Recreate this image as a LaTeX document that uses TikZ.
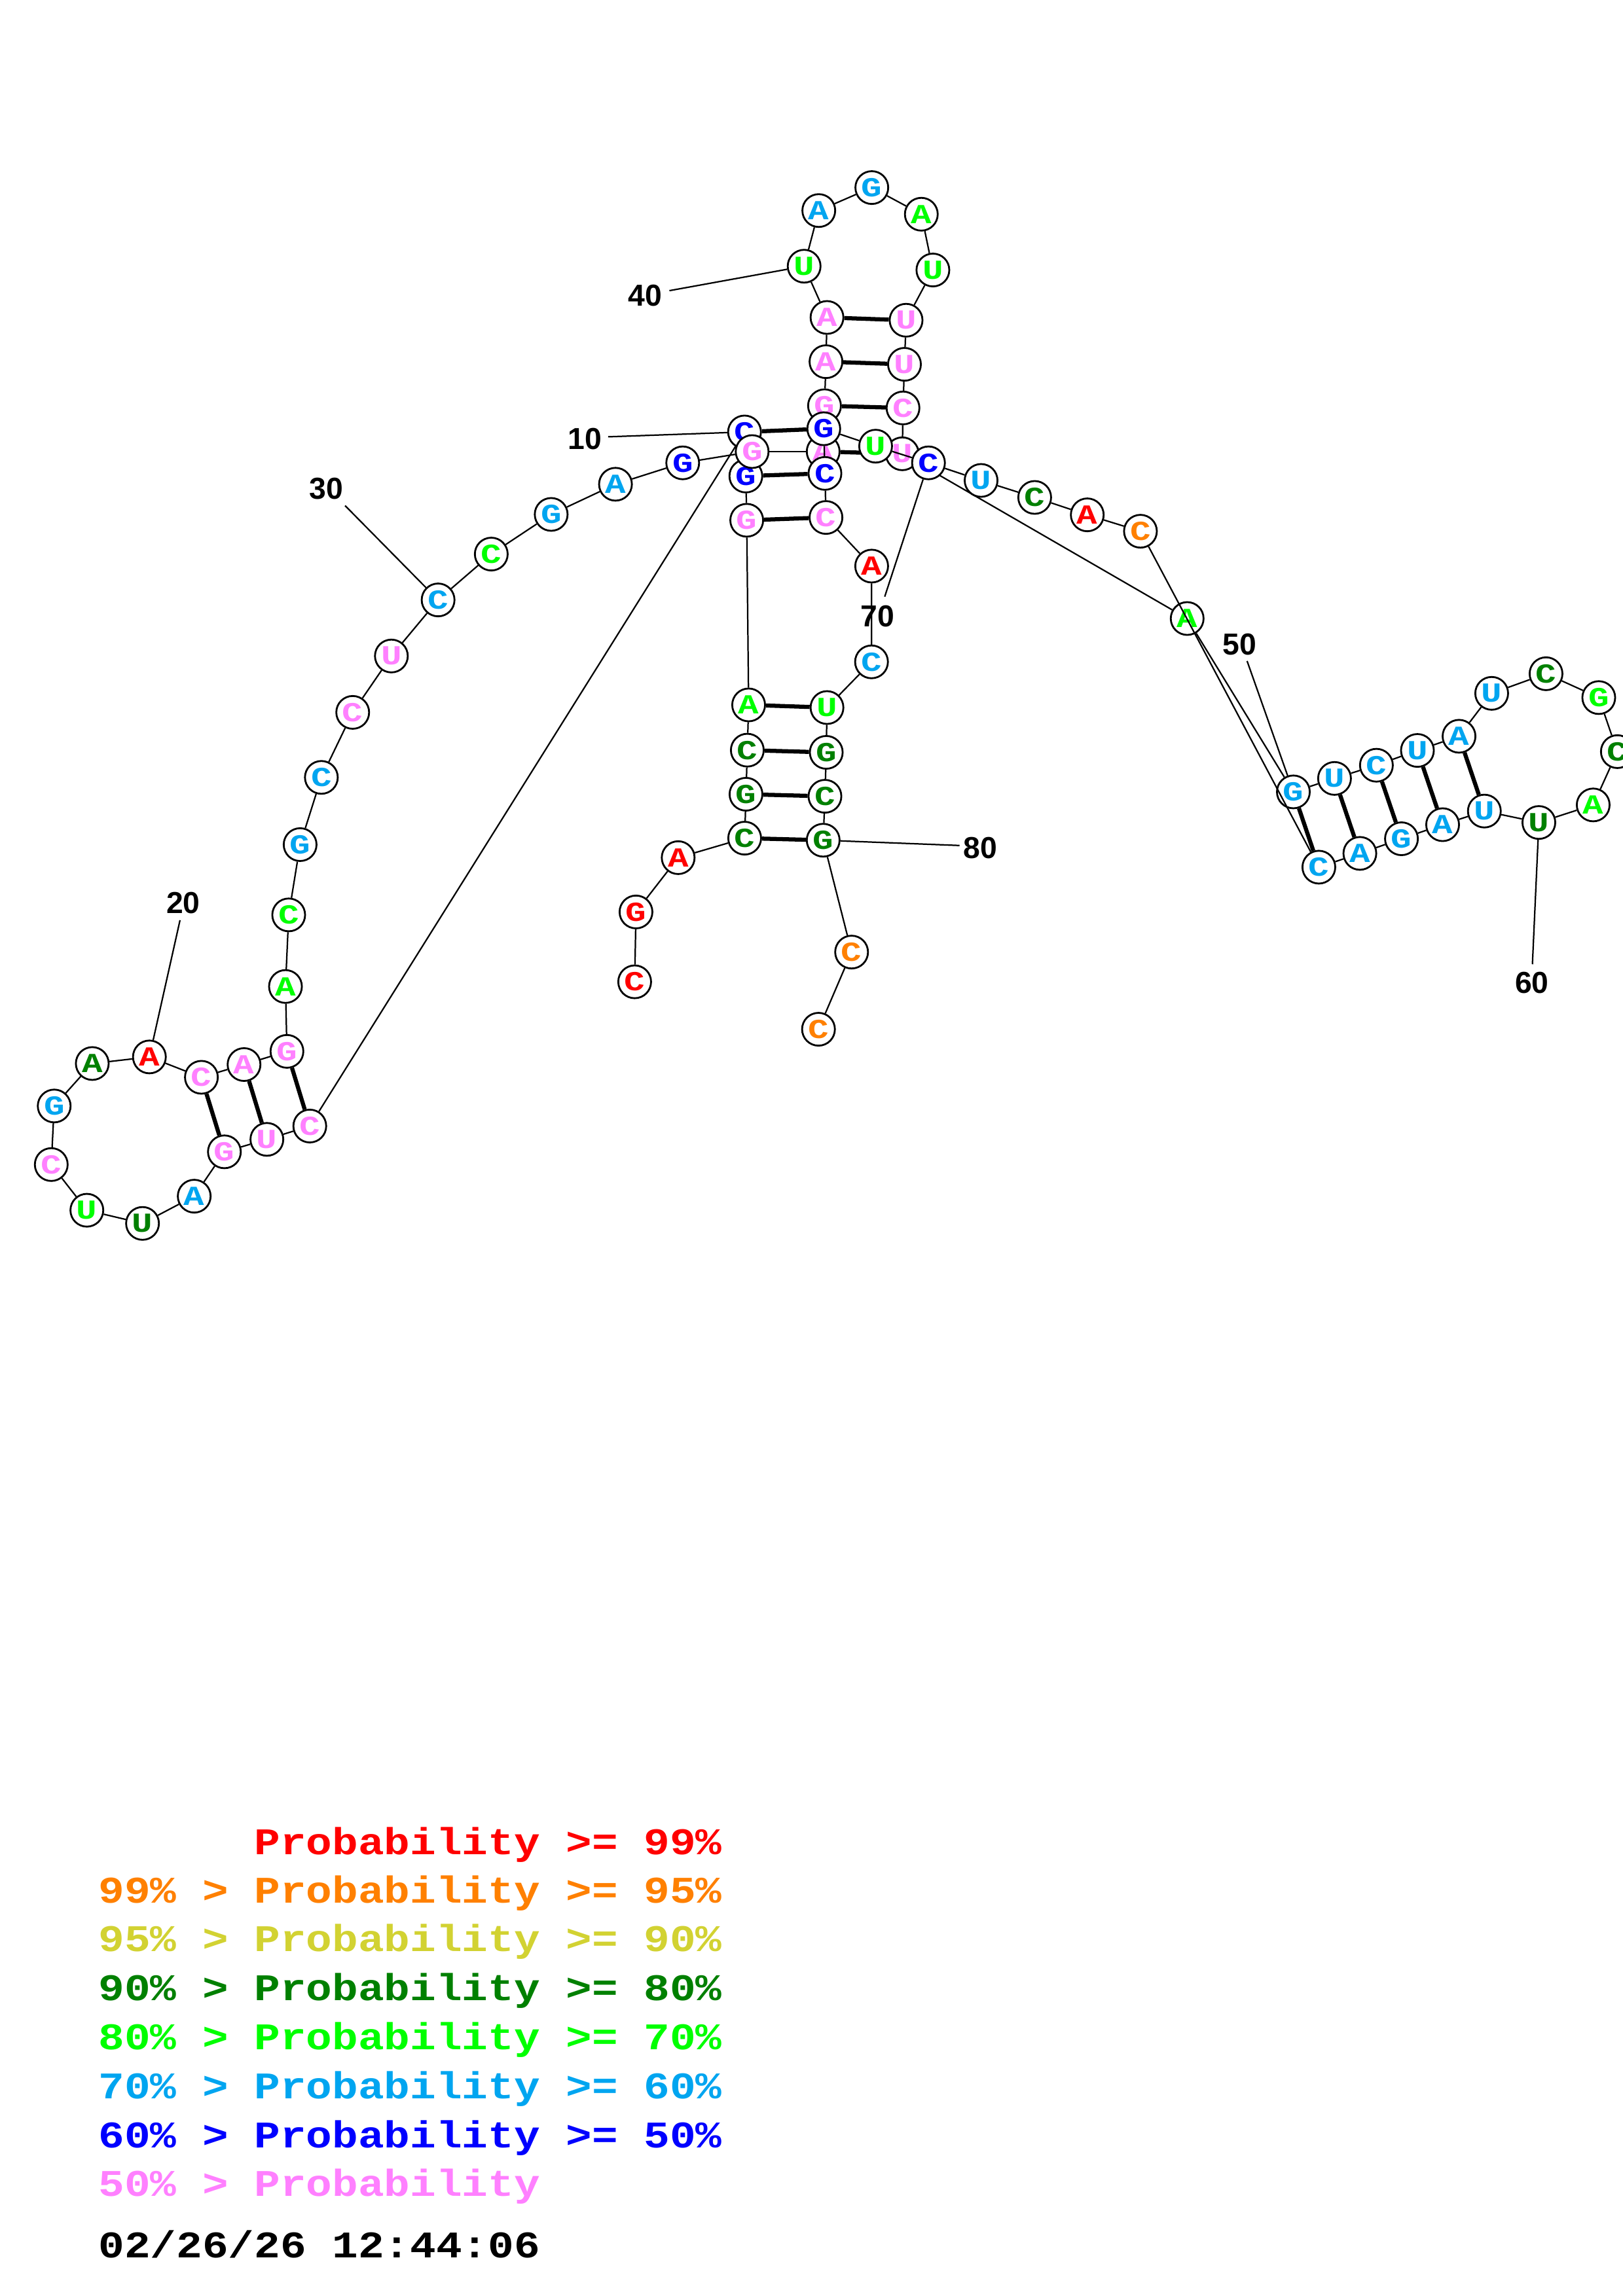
\documentclass[tikz,border=0pt]{standalone}
\usepackage{fontspec}
\newfontfamily\ntfont{Liberation Mono}[FakeStretch=1.15]
\newfontfamily\basefont{Liberation Mono}[FakeStretch=1.25]
\newfontfamily\numfont{Liberation Sans}
\definecolor{cR}{RGB}{255,0,0}
\definecolor{cO}{RGB}{255,128,0}
\definecolor{cY}{RGB}{210,210,50}
\definecolor{cD}{RGB}{0,128,0}
\definecolor{cG}{RGB}{0,255,0}
\definecolor{cC}{RGB}{0,165,240}
\definecolor{cB}{RGB}{0,0,255}
\definecolor{cP}{RGB}{255,128,255}
\begin{document}
\begin{tikzpicture}[x=1pt,y=-1pt,
  nt/.style={circle, draw=black, fill=white, line width=1.25pt, minimum size=22.4pt, inner sep=0pt,
    font=\basefont\bfseries\fontsize{18.8}{18.8}\selectfont},
  bb/.style={line width=1pt},
  bp/.style={line width=2.8pt},
  lab/.style={inner sep=0pt, font=\numfont\bfseries\fontsize{20.7}{20.7}\selectfont},
  leg/.style={anchor=base west, inner sep=0pt, font=\ntfont\bfseries\fontsize{25.7}{30}\selectfont}]
\fill[white] (0,0) rectangle (1108,1568);
\useasboundingbox (0,0) rectangle (1108,1568);
\foreach \i/\px/\py/\nb/\col/\pp in {
1/433.3/670.5/C/cR/0,
2/434.2/622.8/G/cR/0,
3/463.0/585.7/A/cR/0,
4/508.4/572.4/C/cD/0,
5/509.3/542.4/G/cD/0,
6/510.2/512.3/C/cD/0,
7/511.1/481.4/A/cG/0,
8/509.8/355.3/G/cP/0,
9/509.2/325.1/G/cB/0,
10/508.3/295.0/C/cB/0,
11/211.5/769.0/C/cP/0,
12/182.2/778.1/U/cP/0,
13/153.2/786.6/G/cP/0,
14/132.6/816.9/A/cC/0,
15/97.3/835.5/U/cD/0,
16/59.3/826.5/U/cG/0,
17/35.0/795.3/C/cP/0,
18/37.0/755.3/G/cC/0,
19/63.0/726.3/A/cD/0,
20/102.0/721.8/A/cR/0,
21/137.5/735.7/C/cP/13,
22/166.6/727.0/A/cP/12,
23/195.9/718.0/G/cP/11,
24/194.9/673.7/A/cG/0,
25/197.1/624.8/C/cG/0,
26/204.9/576.8/G/cC/0,
27/219.4/530.9/C/cC/0,
28/240.8/486.5/C/cP/0,
29/267.2/448.0/U/cP/0,
30/299.1/409.7/C/cC/0,
31/335.4/378.4/C/cG/0,
32/376.3/351.3/G/cC/0,
33/420.2/330.7/A/cC/0,
34/466.1/316.1/G/cB/0,
35/513.5/308.4/G/cP/0,
36/562.0/308.4/A/cP/0,
37/562.9/277.1/G/cP/0,
38/563.9/247.0/A/cP/0,
39/564.6/216.8/A/cP/0,
40/549.0/181.8/U/cG/0,
41/559.0/143.8/A/cC/0,
42/595.2/128.1/G/cC/0,
43/629.0/146.3/A/cG/0,
44/636.9/184.4/U/cG/0,
45/618.6/218.7/U/cP/39,
46/617.5/248.8/U/cP/38,
47/616.5/278.6/C/cP/37,
48/616.0/309.9/U/cP/36,
49/810.5/422.4/A/cG/0,
50/883.0/540.8/G/cC/0,
51/911.1/531.6/U/cC/0,
52/939.7/522.6/C/cC/0,
53/967.7/512.5/U/cC/0,
54/996.1/502.8/A/cC/0,
55/1018.4/473.5/U/cC/0,
56/1055.5/460.1/C/cD/0,
57/1091.5/476.4/G/cG/0,
58/1104.2/513.3/C/cD/0,
59/1087.7/549.7/A/cG/0,
60/1050.6/561.7/U/cD/0,
61/1013.4/553.9/U/cC/54,
62/984.9/563.2/A/cC/53,
63/956.8/572.8/G/cC/52,
64/928.4/582.8/A/cC/51,
65/900.4/592.2/C/cC/50,
66/778.6/362.8/C/cO/0,
67/742.3/351.6/A/cR/0,
68/706.4/339.7/C/cD/0,
69/669.8/328.1/U/cC/0,
70/633.9/316.1/C/cB/0,
71/597.8/304.7/U/cG/0,
72/562.4/292.8/G/cB/10,
73/563.2/323.3/C/cB/9,
74/563.9/353.4/C/cP/8,
75/595.1/386.6/A/cR/0,
76/595.0/452.0/C/cC/0,
77/564.6/483.2/U/cG/7,
78/564.1/513.8/G/cD/6,
79/563.2/543.8/C/cD/5,
80/562.0/573.8/G/cD/4,
81/581.4/650.2/C/cO/0,
82/558.8/702.9/C/cO/0}{
  \node[nt,text=\col] (n\i) at (\px,\py) {\nb};
  \ifnum\i>1
    \pgfmathtruncatemacro\jj{\i-1}
    \draw[bb] (n\jj) -- (n\i);
  \fi
  \ifnum\pp>0
    \draw[bp] (n\pp) -- (n\i);
  \fi
}
% numbering labels
\node[lab] (L10) at (399.3,299.5) {10};
\node[lab] (L20) at (125.1,616.8) {20};
\node[lab] (L30) at (222.7,333.7) {30};
\node[lab] (L40) at (440.5,202.0) {40};
\node[lab] (L50) at (846.4,440.2) {50};
\node[lab] (L60) at (1045.9,671.2) {60};
\node[lab] (L70) at (599.0,420.9) {70};
\node[lab] (L80) at (669.3,579.1) {80};
\coordinate (e10) at (415.2,298.3);
\coordinate (e20) at (122.9,628.4);
\coordinate (e30) at (235.6,345.3);
\coordinate (e40) at (457.0,198.5);
\coordinate (e50) at (851.4,451.4);
\coordinate (e60) at (1046.2,658.5);
\coordinate (e70) at (604.0,407.5);
\coordinate (e80) at (655.1,577.4);
\foreach \k in {10,20,30,40,50,60,70,80}{
  \draw[bb] (e\k) -- (n\k);
}
% legend
\node[leg,text=cR] (g1) at (67,1266.5) {\phantom{99\%~>~}Probability~>=~99\%};
\node[leg,text=cO] (g2) at (67,1299.4) {99\%~>~Probability~>=~95\%};
\node[leg,text=cY] (g3) at (67,1332.8) {95\%~>~Probability~>=~90\%};
\node[leg,text=cD] (g4) at (67,1366.3) {90\%~>~Probability~>=~80\%};
\node[leg,text=cG] (g5) at (67,1399.6) {80\%~>~Probability~>=~70\%};
\node[leg,text=cC] (g6) at (67,1433.1) {70\%~>~Probability~>=~60\%};
\node[leg,text=cB] (g7) at (67,1466.6) {60\%~>~Probability~>=~50\%};
\node[leg,text=cP] (g8) at (67,1500.0) {50\%~>~Probability};
\node[leg,text=black] (g9) at (67,1541.8) {02/26/26~12:44:06};
\end{tikzpicture}
\end{document}
